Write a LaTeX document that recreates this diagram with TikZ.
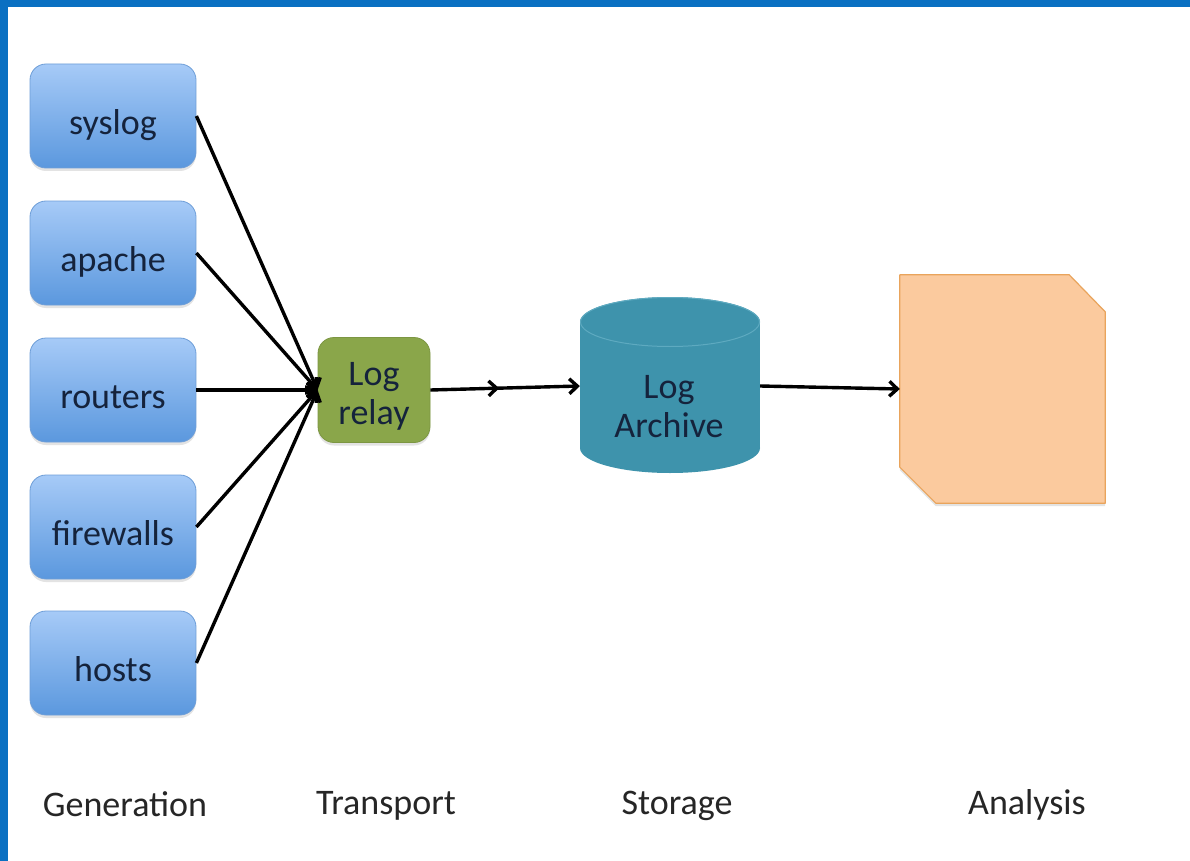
\documentclass[tikz,border=0pt]{standalone}
\usepackage{fontspec}
\setmainfont{Carlito}
\usetikzlibrary{arrows.meta,shadows,decorations.markings}
\definecolor{frameblue}{HTML}{0A70C2}
\definecolor{boxtop}{HTML}{A6CAF7}
\definecolor{boxbot}{HTML}{5B98DE}
\definecolor{boxedge}{HTML}{6E9ED8}
\definecolor{boxink}{HTML}{15233C}
\definecolor{relayfill}{HTML}{8AA64A}
\definecolor{relayedge}{HTML}{7C9642}
\definecolor{archfill}{HTML}{3E93AC}
\definecolor{archrim}{HTML}{5EAAC0}
\definecolor{anafill}{HTML}{FBCA9E}
\definecolor{anaedge}{HTML}{E9A45C}
\definecolor{labelink}{HTML}{262626}
\begin{document}
\begin{tikzpicture}[x=1pt,y=-1pt,
  softshadow/.style={drop shadow={shadow xshift=0pt,shadow yshift=-3pt,opacity=0.22}},
  src/.style={rectangle, rounded corners=16pt, minimum width=166pt, minimum height=104pt,
    top color=boxtop, bottom color=boxbot, draw=boxedge, line width=0.8pt,
    font=\fontsize{36}{40}\selectfont, text=boxink, text height=37pt, text depth=0pt,
    softshadow},
  relaybox/.style={rectangle, rounded corners=16pt, minimum width=112pt, minimum height=105pt,
    fill=relayfill, draw=relayedge, line width=0.8pt, softshadow},
  inner/.style={font=\fontsize{36}{39}\selectfont, text=boxink, align=center, inner sep=0pt},
  stage/.style={font=\fontsize{36}{40}\selectfont, text=labelink, anchor=base, inner sep=0pt},
  conn/.style={line width=3.4pt, -{Straight Barb[length=8pt,width=15pt]}},
  midarrow/.style={postaction={decorate, decoration={markings,
    mark=at position 0.46 with {\arrow{Straight Barb[length=8pt,width=15pt]}}}}}
]
% page and frame
\useasboundingbox (0,0) rectangle (1190,861);
\fill[white] (0,0) rectangle (1190,861);
\fill[frameblue] (0,0) rectangle (1190,7);
\fill[frameblue] (0,0) rectangle (8,861);

% log sources
\node[src] (syslog)    at (113,116) {syslog};
\node[src] (apache)    at (113,253) {apache};
\node[src] (routers)   at (113,390) {routers};
\node[src] (firewalls) at (113,527) {firewalls};
\node[src] (hosts)     at (113,663) {hosts};

% relay
\node[relaybox] (relay) at (374,390) {};
\node[inner] (relaytext) at (374,396) {Log\\relay};

% archive cylinder
\fill[archfill] (580,322) rectangle (760,448);
\fill[archfill] (670,448) ellipse [x radius=90, y radius=25];
\fill[archfill] (670,322) ellipse [x radius=90, y radius=25];
\draw[archrim, line width=1pt] (670,322) ellipse [x radius=89.5, y radius=24.5];
\node[minimum width=180pt, minimum height=176pt, inner sep=0pt] (archive) at (670,386) {};
\node[inner] (archivetext) at (669,407) {Log\\Archive};

% analysis: sheet with two cut corners
\node[minimum width=205pt, minimum height=228pt, inner sep=0pt] (analysis) at (1002.5,389) {};
\path[fill=anafill, draw=anaedge, line width=1.2pt, line join=round, softshadow]
  (analysis.north west) -- ([xshift=-36pt]analysis.north east)
  -- ([yshift=-37pt]analysis.north east) -- (analysis.south east)
  -- ([xshift=36pt]analysis.south west) -- ([yshift=36pt]analysis.south west) -- cycle;

% connectors
\foreach \s in {syslog,apache,routers,firewalls,hosts}
  \draw[conn] (\s.east) -- (relay.west);
\draw[conn, midarrow] (relay.east) -- (archive.west);
\draw[conn] (archive.east) -- (analysis.west);

% stage captions
\node[stage] (gen)  at (125,816) {Generation};
\node[stage] (tra)  at (386,814) {Transport};
\node[stage] (sto)  at (677,814) {Storage};
\node[stage] (ana)  at (1027,814) {Analysis};
\end{tikzpicture}
\end{document}
